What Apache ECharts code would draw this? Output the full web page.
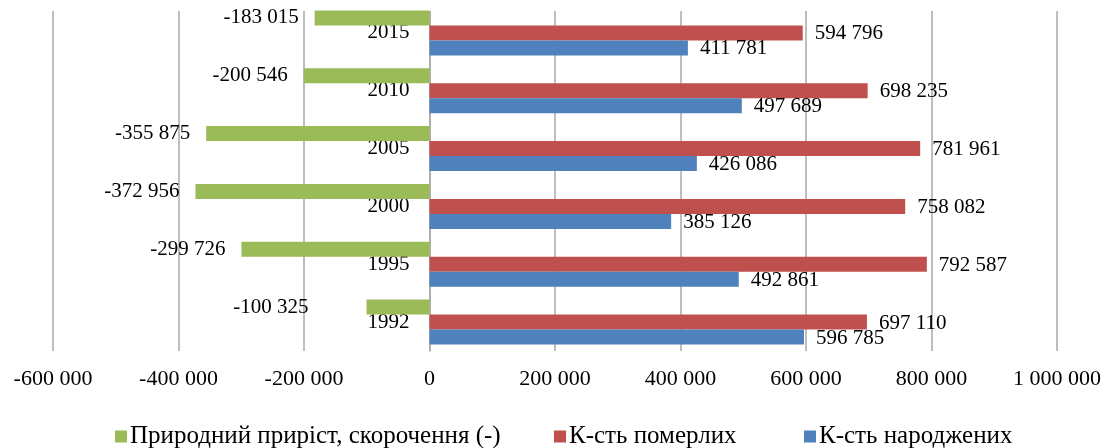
<!DOCTYPE html>
<html>
<head>
<meta charset="utf-8">
<script src="https://cdn.jsdelivr.net/npm/echarts@6/dist/echarts.min.js"></script>
<style>
  html, body { margin: 0; padding: 0; background: #fff; }
  #chart { width: 1113px; height: 448px; }
</style>
</head>
<body>
<div id="chart"></div>
<script>
// роки, знизу вгору
const years = ['1992', '1995', '2000', '2005', '2010', '2015']
const growth = [-100325, -299726, -372956, -355875, -200546, -183015]
const deaths = [697110, 792587, 758082, 781961, 698235, 594796]
const births = [596785, 492861, 385126, 426086, 497689, 411781]
const seriesNames = ['Природний приріст, скорочення (-)', 'К-сть померлих', 'К-сть народжених']

const X_MIN = -600000
const X_MAX = 1000000

const FONT = '"Liberation Serif", "Times New Roman", serif'
const GREEN = '#9BBB59'
const RED = '#C0504D'
const BLUE = '#4F81BD'

const GRID_LEFT = 53
const GRID_RIGHT = 56
const GRID_W = 1113 - GRID_LEFT - GRID_RIGHT
// category axis sits on the zero of the value axis
const zeroShift = GRID_W * (0 - X_MIN) / (X_MAX - X_MIN)

function fmt (v) {
  const s = String(Math.abs(v)).replace(/\B(?=(\d{3})+(?!\d))/g, ' ')
  return (v < 0 ? '-' : '') + s
}

const labelStyle = {
  show: true,
  color: '#000',
  fontFamily: FONT,
  fontSize: 21,
  formatter: p => fmt(p.value)
}

// 1992 label in the source sits further away from its bar
const growthData = growth.map((v, i) => i === 0 ? { value: v, label: { distance: 58 } } : v)

const chart = echarts.init(document.getElementById('chart'))
chart.setOption({
  backgroundColor: '#fff',
  animation: false,
  grid: { left: GRID_LEFT, right: GRID_RIGHT, top: 4, height: 347, outerBoundsMode: 'none', containLabel: false },
  legend: [
    { data: [seriesNames[0]], left: 110, top: 419 },
    { data: [seriesNames[1]], left: 549, top: 419 },
    { data: [seriesNames[2]], left: 799, top: 419 }
  ].map(l => Object.assign(l, {
    icon: 'rect',
    itemWidth: 12,
    itemHeight: 12,
    itemGap: 4,
    textStyle: { fontFamily: FONT, fontSize: 25, color: '#000', padding: [0, 0, 0, -2] }
  })),
  xAxis: {
    type: 'value',
    min: X_MIN,
    max: X_MAX,
    interval: 200000,
    axisLine: { show: false },
    axisTick: { show: false },
    splitLine: { lineStyle: { color: '#a8a8a8', width: 1.5 } },
    axisLabel: {
      color: '#000',
      fontFamily: FONT,
      fontSize: 22,
      margin: 17,
      formatter: v => fmt(v)
    }
  },
  yAxis: {
    type: 'category',
    data: years,
    offset: -zeroShift,
    axisLine: { show: true, onZero: false, lineStyle: { color: '#a8a8a8', width: 1.5 } },
    axisTick: { show: false },
    axisLabel: { color: '#000', fontFamily: FONT, fontSize: 21, margin: 20 }
  },
  series: [
    {
      name: seriesNames[0],
      type: 'bar',
      data: growthData,
      barWidth: 15,
      barGap: '0%',
      itemStyle: { color: GREEN },
      label: Object.assign({}, labelStyle, { position: 'left', distance: 16 })
    },
    {
      name: seriesNames[1],
      type: 'bar',
      data: deaths,
      barWidth: 15,
      barGap: '0%',
      itemStyle: { color: RED },
      label: Object.assign({}, labelStyle, { position: 'right', distance: 12, offset: [0, 1] })
    },
    {
      name: seriesNames[2],
      type: 'bar',
      data: births,
      barWidth: 15,
      barGap: '0%',
      itemStyle: { color: BLUE },
      label: Object.assign({}, labelStyle, { position: 'right', distance: 12, offset: [0, 1] })
    }
  ],
  graphic: [
    // the source picture is cropped just above the plot
    { type: 'rect', left: 0, top: 0, z: 1, shape: { width: 1113, height: 11 }, style: { fill: '#fff' } }
  ]
})
</script>
</body>
</html>
